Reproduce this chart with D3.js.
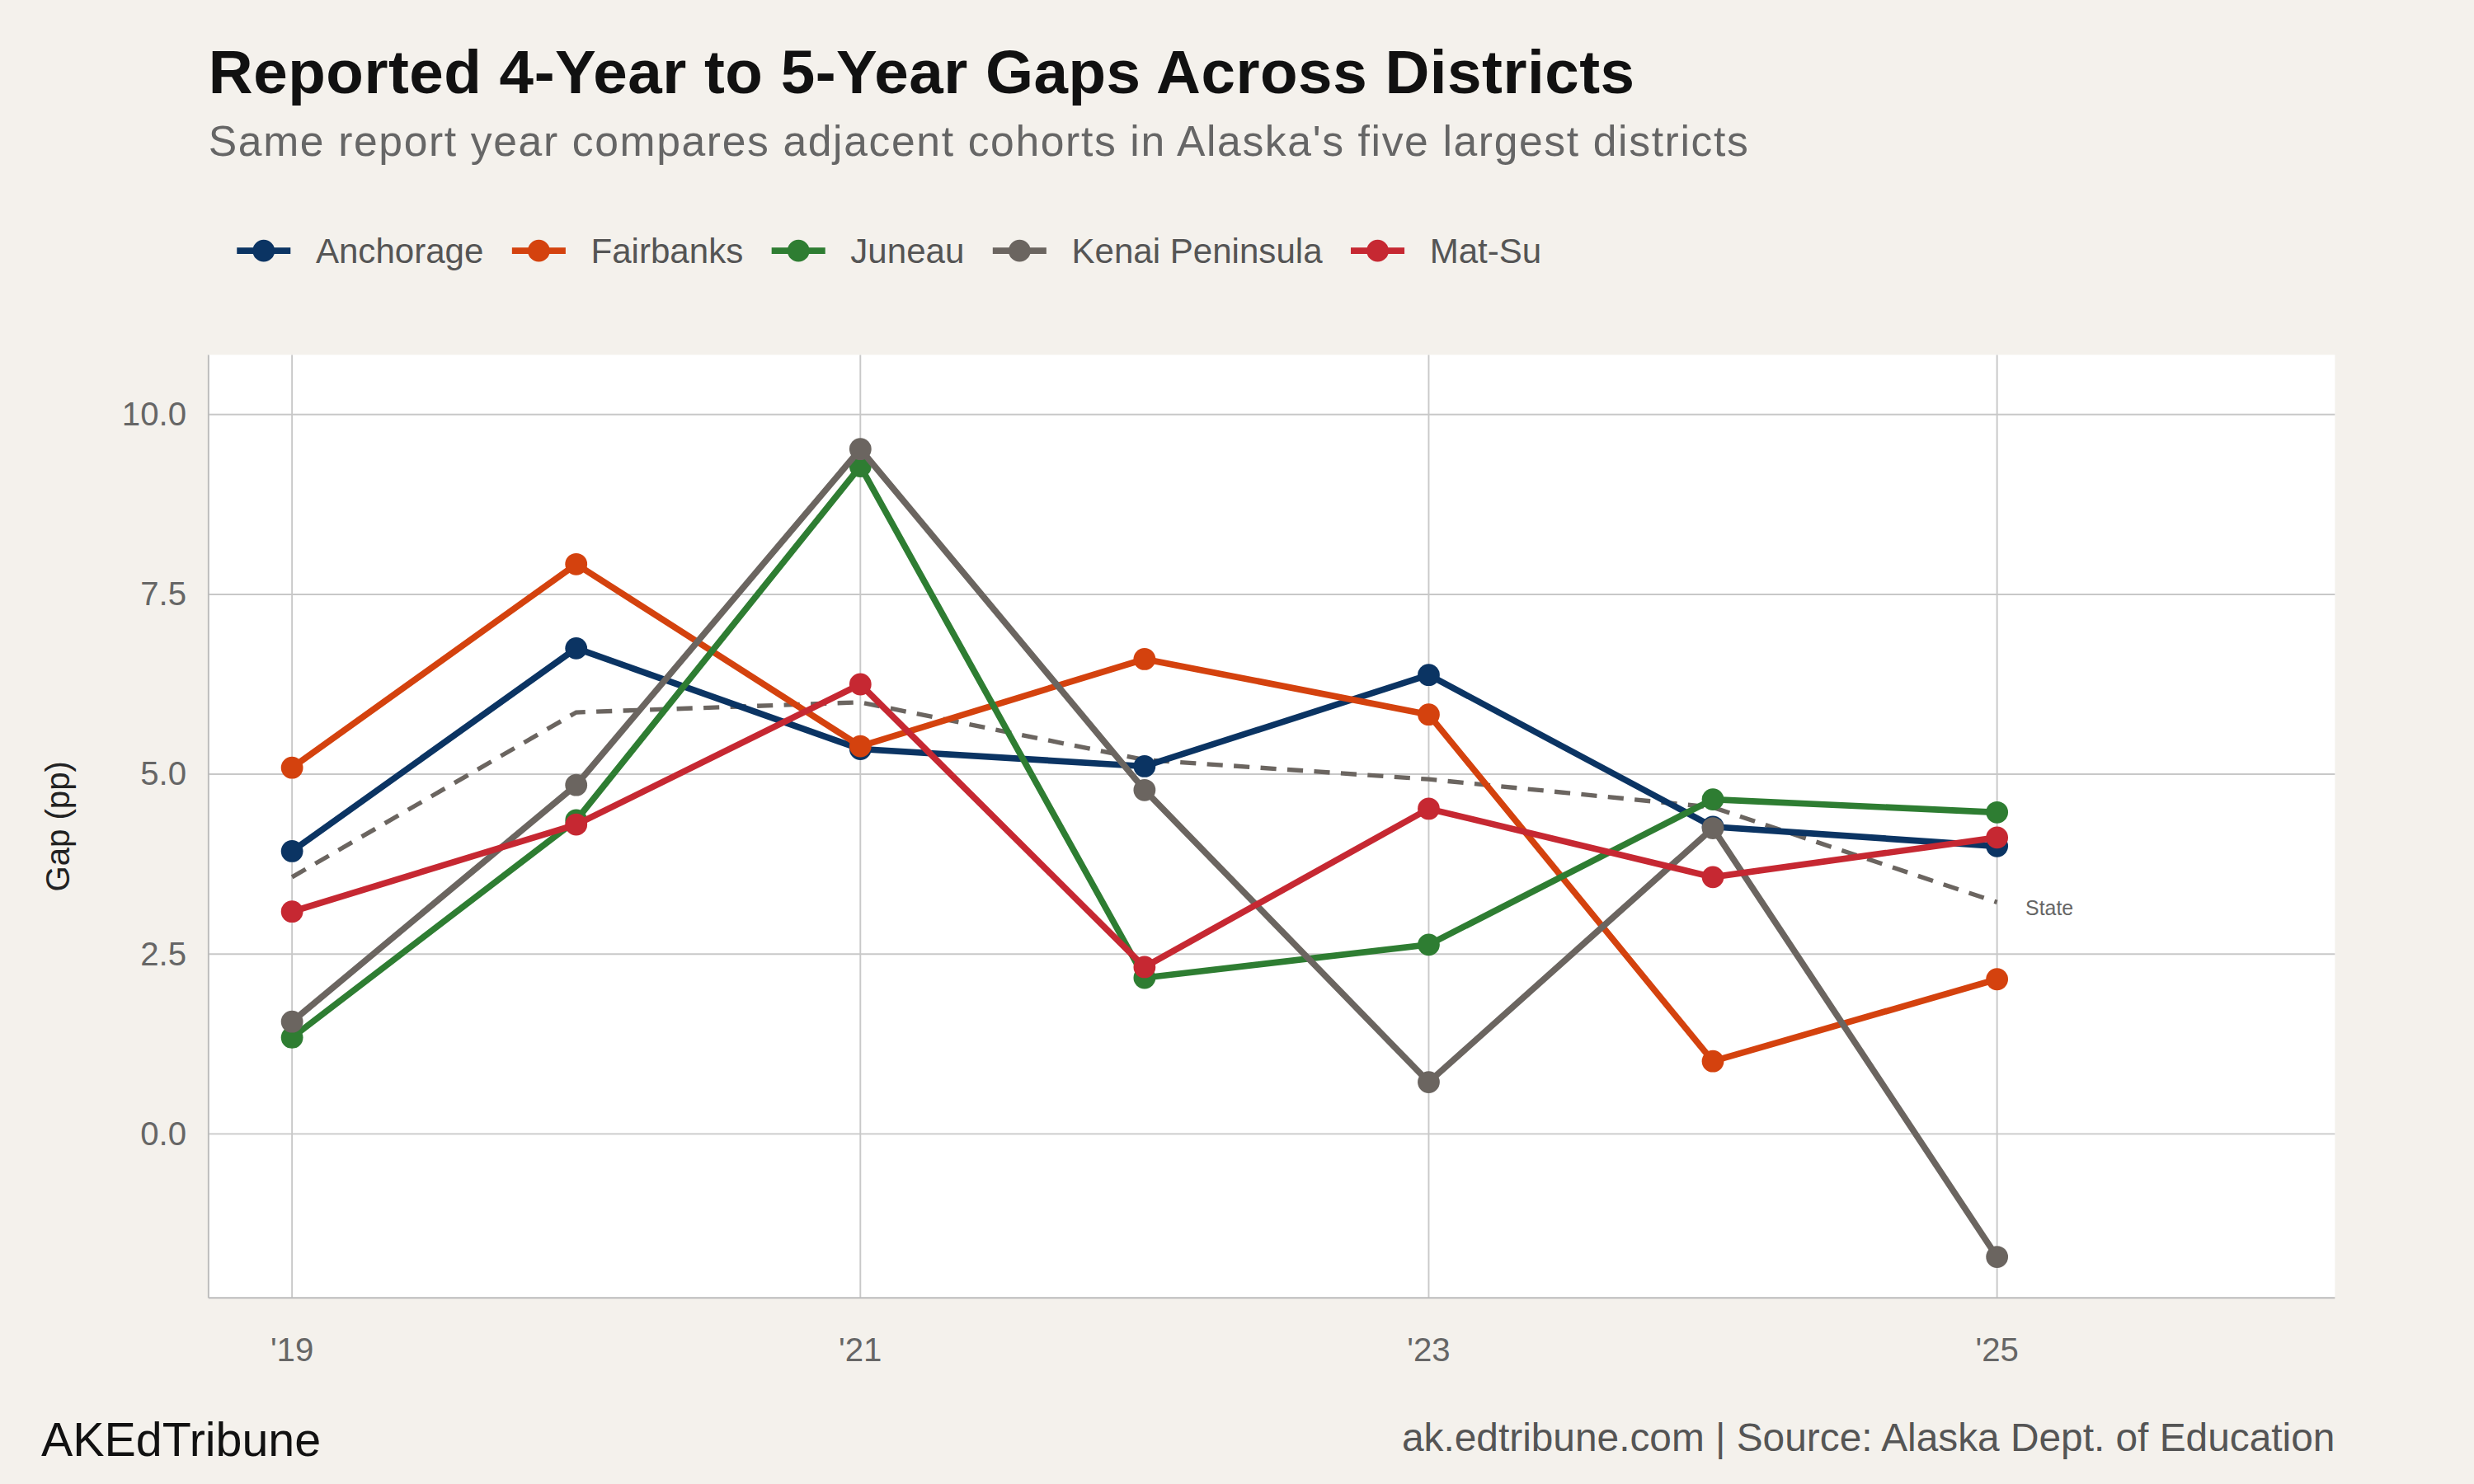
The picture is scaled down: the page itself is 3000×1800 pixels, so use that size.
<!DOCTYPE html>
<html><head><meta charset="utf-8">
<script src="https://cdn.jsdelivr.net/npm/d3@7"></script>
<style>body{margin:0;background:#f4f1ec}svg{display:block;font-family:"Liberation Sans",Arial,sans-serif}</style>
</head><body><svg id="chart" width="3000" height="1800" viewBox="0 0 1568 941"></svg>
<script>
const years = [2019, 2020, 2021, 2022, 2023, 2024, 2025];
const tickYears = [2019, 2021, 2023, 2025];
const yTicks = [0, 2.5, 5, 7.5, 10];
const districts = ["Anchorage", "Fairbanks", "Juneau", "Kenai Peninsula", "Mat-Su"];
const colors = ["#0b3463", "#d4420e", "#2e7d32", "#6b6560", "#c62832"];
const anchorage = [3.93, 6.75, 5.35, 5.11, 6.38, 4.27, 4.0];
const fairbanks = [5.09, 7.92, 5.39, 6.6, 5.83, 1.01, 2.15];
const juneau = [1.34, 4.36, 9.28, 2.17, 2.63, 4.65, 4.47];
const kenai = [1.56, 4.85, 9.52, 4.78, 0.72, 4.25, -1.71];
const matsu = [3.09, 4.3, 6.25, 2.32, 4.52, 3.57, 4.12];
const state = [3.57, 5.86, 6.0, 5.2, 4.93, 4.54, 3.22];
const series = [anchorage, fairbanks, juneau, kenai, matsu];

const svg = d3.select("#chart");
const L = 132, R = 1480, T = 225, B = 823;
svg.append("rect").attr("width", 1568).attr("height", 941).attr("fill", "#f4f1ec");
svg.append("rect").attr("x", L).attr("y", T).attr("width", R - L).attr("height", B - T).attr("fill", "#fff");

const x = d3.scaleLinear().domain([2018.706, 2026.189]).range([L, R]);
const y = d3.scaleLinear().domain([-2.28, 10.83]).range([B, T]);

const g = svg.append("g");
g.selectAll(".gy").data(yTicks).join("line").attr("x1", L).attr("x2", R)
  .attr("y1", d => y(d)).attr("y2", d => y(d)).attr("stroke", "#c8c8c8").attr("stroke-width", 1);
g.selectAll(".gx").data(tickYears).join("line").attr("y1", T).attr("y2", B)
  .attr("x1", d => x(d)).attr("x2", d => x(d)).attr("stroke", "#c8c8c8").attr("stroke-width", 1);
svg.append("line").attr("x1", L).attr("x2", R).attr("y1", B).attr("y2", B).attr("stroke", "#bbb");
svg.append("line").attr("x1", L).attr("x2", L).attr("y1", T).attr("y2", B).attr("stroke", "#bbb");

svg.selectAll(".yl").data(yTicks).join("text").attr("x", L - 14).attr("y", d => y(d) + 7)
  .attr("text-anchor", "end").attr("font-size", 21).attr("fill", "#666").text(d => d.toFixed(1));
svg.selectAll(".xl").data(tickYears).join("text").attr("x", d => x(d)).attr("y", B + 40)
  .attr("text-anchor", "middle").attr("font-size", 21).attr("fill", "#666").text(d => "'" + String(d).slice(2));
svg.append("text").attr("transform", `translate(44,${(T + B) / 2}) rotate(-90)`).attr("text-anchor", "middle")
  .attr("font-size", 21).attr("fill", "#222").text("Gap (pp)");

const line = d3.line().x((d, i) => x(years[i])).y(d => y(d));
svg.append("path").attr("d", line(state)).attr("fill", "none").attr("stroke", "#6b6560")
  .attr("stroke-width", 2.8).attr("stroke-dasharray", "10,7");
svg.append("text").attr("x", x(2025) + 18).attr("y", y(state[6]) + 8).attr("font-size", 13).attr("fill", "#666").text("State");

series.forEach((s, k) => {
  const sg = svg.append("g");
  sg.append("path").attr("d", line(s)).attr("fill", "none").attr("stroke", colors[k]).attr("stroke-width", 4);
  sg.selectAll("circle").data(s).join("circle").attr("cx", (d, i) => x(years[i])).attr("cy", d => y(d))
    .attr("r", 7).attr("fill", colors[k]);
});

svg.append("text").attr("x", 132).attr("y", 59).attr("font-size", 39).attr("font-weight", "bold").attr("fill", "#111")
  .attr("textLength", 904).text("Reported 4-Year to 5-Year Gaps Across Districts");
svg.append("text").attr("x", 132).attr("y", 99).attr("font-size", 27).attr("fill", "#666")
  .attr("textLength", 976).text("Same report year compares adjacent cohorts in Alaska's five largest districts");

let lx = 150;
const leg = svg.append("g");
districts.forEach((d, k) => {
  leg.append("line").attr("x1", lx).attr("x2", lx + 34).attr("y1", 159).attr("y2", 159).attr("stroke", colors[k]).attr("stroke-width", 4);
  leg.append("circle").attr("cx", lx + 17).attr("cy", 159).attr("r", 7).attr("fill", colors[k]);
  const t = leg.append("text").attr("x", lx + 50).attr("y", 167).attr("font-size", 22).attr("fill", "#555").text(d);
  lx += 50 + t.node().getComputedTextLength() + 18;
});

svg.append("text").attr("x", 26).attr("y", 923).attr("font-size", 30).attr("fill", "#111").text("AKEdTribune");
svg.append("text").attr("x", R).attr("y", 920).attr("text-anchor", "end").attr("font-size", 25).attr("fill", "#555")
  .text("ak.edtribune.com | Source: Alaska Dept. of Education");
</script></body></html>
